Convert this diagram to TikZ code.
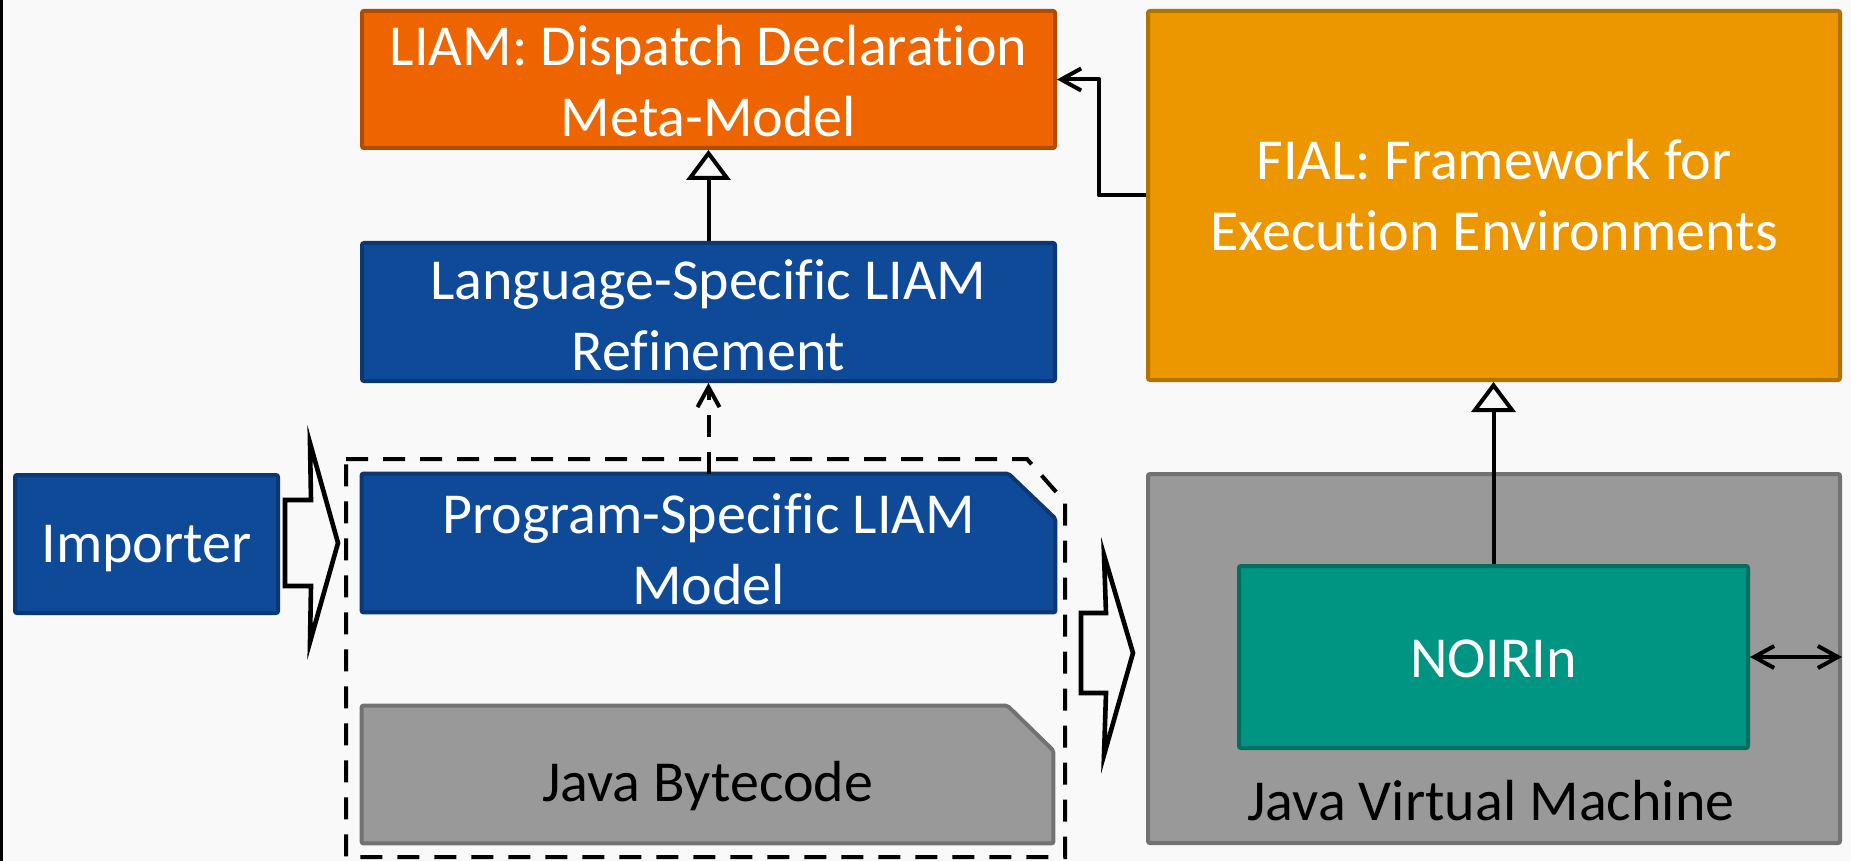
\documentclass[tikz,border=0pt]{standalone}
\usepackage{fontspec}
\setmainfont[Ligatures={NoCommon}]{Carlito}
\usetikzlibrary{arrows.meta,backgrounds}
\definecolor{bg}{HTML}{F9F9F9}
\definecolor{blueF}{HTML}{0E4A98}
\definecolor{blueD}{HTML}{0B3773}
\definecolor{orangeF}{HTML}{EE6500}
\definecolor{orangeD}{HTML}{B04B00}
\definecolor{amberF}{HTML}{EC9600}
\definecolor{amberD}{HTML}{B07300}
\definecolor{grayF}{HTML}{999999}
\definecolor{grayD}{HTML}{727272}
\definecolor{tealF}{HTML}{009482}
\definecolor{tealD}{HTML}{006E60}
\newcommand{\lowerby}[2]{\raisebox{-#1}[\height][\depth]{#2}}
\begin{document}
\begin{tikzpicture}[x=0.5pt,y=-0.5pt,
  txt/.style={align=center, inner sep=0pt, font=\fontsize{29}{35.5}\selectfont},
  box/.style={txt, draw, line width=2pt, rounded corners=1pt},
  bluebox/.style={box, fill=blueF, draw=blueD, text=white},
  chamf/.style={line width=2pt, rounded corners=1pt},
  conn/.style={line width=2pt, black},
  openhead/.style={-{Triangle[open, length=15pt, width=22pt, line join=miter]}},
  barb/.style={-{Straight Barb[length=10pt, width=11pt]}},
  dbarb/.style={{Straight Barb[length=10pt, width=11pt]}-{Straight Barb[length=10pt, width=11pt]}},
  dashpat/.style={dash pattern=on 11pt off 7.5pt},
  blockarrow/.style={draw=black, fill=bg, line width=2.3pt, line join=miter}
]
\useasboundingbox (0,0) rectangle (1851,861);
\begin{scope}[on background layer]
  \fill[bg] (0,0) rectangle (1851,861);
  \fill[black] (0,0) rectangle (2.5,861);
\end{scope}

% top-left column
\node[box, fill=orangeF, draw=orangeD, text=white, minimum width=346.5pt, minimum height=68.5pt]
  (liam) at (708.5,79.5) {\lowerby{1pt}{\parbox{340pt}{\centering LIAM: Dispatch Declaration\\Meta-Model}}};
\node[bluebox, minimum width=346.5pt, minimum height=69pt]
  (lang) at (708.5,312) {\lowerby{1.5pt}{\parbox{340pt}{\centering Language-Specific LIAM\\Refinement}}};
\node[bluebox, minimum width=131.5pt, minimum height=69pt]
  (imp) at (146.5,544) {\lowerby{2.5pt}{Importer}};

% chamfered boxes (shape drawn behind text)
\node[txt, text=white, minimum width=346.5pt, minimum height=69pt]
  (prog) at (708.5,543) {\lowerby{3pt}{\parbox{340pt}{\centering Program-Specific LIAM\\Model}}};
\node[txt, text=black, minimum width=345.5pt, minimum height=68.5pt]
  (byte) at (707.5,774.5) {\lowerby{6pt}{Java Bytecode}};
\begin{scope}[on background layer]
  \filldraw[chamf, fill=blueF, draw=blueD] (prog.north west) -- ([xshift=-23.5pt]prog.north east)
    -- ([yshift=-22.5pt]prog.north east) -- (prog.south east) -- (prog.south west) -- cycle;
  \filldraw[chamf, fill=grayF, draw=grayD] (byte.north west) -- ([xshift=-23pt]byte.north east)
    -- ([yshift=-22.5pt]byte.north east) -- (byte.south east) -- (byte.south west) -- cycle;
\end{scope}

% dashed group
\draw[conn, dashpat] (346,459) -- (1027,459) -- (1065,502) -- (1065,857) -- (346,857) -- cycle;

% right column
\node[box, fill=amberF, draw=amberD, text=white, minimum width=346pt, minimum height=184.5pt]
  (fial) at (1494,195.5) {FIAL: Framework for\\Execution Environments};
\node[box, fill=grayF, draw=grayD, minimum width=346pt, minimum height=184.5pt]
  (jvm) at (1494,658.5) {};
\node[box, fill=tealF, draw=tealD, text=white, minimum width=254.5pt, minimum height=91pt]
  (noir) at (1493.5,657) {\lowerby{1pt}{NOIRIn}};
\node[txt, text=black] (jvmlabel) at (1491,801) {Java Virtual Machine};

% connectors
\draw[conn, openhead] (lang.north) -- (liam.south);
\draw[conn, barb, dashpat] (prog.north) -- (lang.south);
\draw[conn, barb, line join=round] (fial.west) -- ++(-23.5pt,0) |- (liam.east);
\draw[conn, openhead] (noir.north) -- (noir.north |- fial.south);
\draw[conn, dbarb] (noir.east) -- (noir.east -| jvm.east);

% block arrows
\draw[blockarrow] (285,500) -- (311,500) -- (310,443) -- (338,543) -- (310,642) -- (311,586) -- (285,586) -- cycle;
\draw[blockarrow] (1081,613) -- (1106,613) -- (1104,555) -- (1133,653) -- (1104,755) -- (1106,693) -- (1081,693) -- cycle;
\end{tikzpicture}
\end{document}
